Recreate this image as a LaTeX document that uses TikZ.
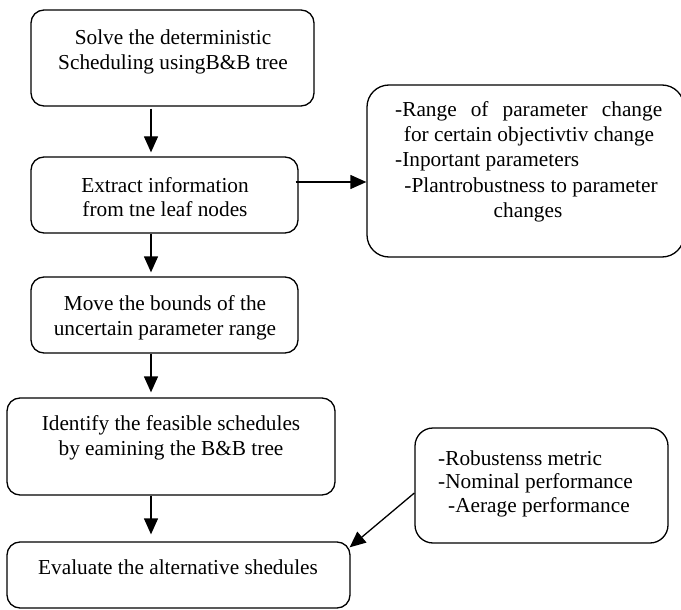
\documentclass[tikz,border=0pt]{standalone}
\usepackage{fontspec}
\setmainfont{Liberation Serif}
\usetikzlibrary{arrows.meta}
\begin{document}
\begin{tikzpicture}[x=1pt,y=-1pt,
  box/.style={draw,line width=1.3pt,rounded corners=13pt,inner sep=0pt},
  txt/.style={inner sep=0pt,anchor=base,font=\fontsize{21.3}{25}\selectfont},
  txtl/.style={txt,anchor=base west},
  arr/.style={line width=1.3pt,-{Triangle[length=16pt,width=14pt]}}]
\useasboundingbox (0,0) rectangle (681,610);
% boxes
\node[box,minimum width=283pt,minimum height=96pt] (b1) at (172.5,58) {};
\node[box,minimum width=267pt,minimum height=76pt] (b2) at (164.5,195) {};
\node[box,minimum width=267pt,minimum height=76pt] (b3) at (164.5,315) {};
\node[box,minimum width=328pt,minimum height=97pt] (b4) at (171,446.5) {};
\node[box,minimum width=343pt,minimum height=66pt] (b5) at (178.5,575) {};
\node[box,rounded corners=22pt,minimum width=317pt,minimum height=172pt] (info) at (525.5,171) {};
\node[box,rounded corners=18pt,minimum width=253pt,minimum height=115pt] (metrics) at (541.5,485.5) {};
% texts
\node[txt] (t1a) at (173,45) {Solve the deterministic};
\node[txt] (t1b) at (173,70) {Scheduling usingB\&B tree};
\node[txt] (t2a) at (165,192) {Extract information};
\node[txt] (t2b) at (165,216) {from tne leaf nodes};
\node[txt] (t3a) at (165,310) {Move the bounds of the};
\node[txt] (t3b) at (165,335) {uncertain parameter range};
\node[txt] (t4a) at (171,430) {Identify the feasible schedules};
\node[txt] (t4b) at (171,455) {by eamining the B\&B tree};
\node[txt] (t5) at (178,574) {Evaluate the alternative shedules};
\node[txtl] (i1) at (395,117) {\hbox to 267pt{-Range\hfill of\hfill parameter\hfill change}};
\node[txt] (i2) at (529,142) {for certain objectivtiv change};
\node[txtl] (i3) at (395,167) {-Inportant parameters};
\node[txt] (i4) at (531,192) {-Plantrobustness to parameter};
\node[txt] (i5) at (528,217) {changes};
\node[txtl] (m1) at (438,465) {-Robustenss metric};
\node[txtl] (m2) at (438,488) {-Nominal performance};
\node[txtl] (m3) at (448,512) {-Aerage performance};
% connectors
\coordinate (ax) at (151,0);
\draw[arr] ([yshift=-2pt]b1.south -| ax) -- ([yshift=4pt]b2.north -| ax);
\draw[arr] (b2.south -| ax) -- ([yshift=4pt]b3.north -| ax);
\draw[arr] (b3.south -| ax) -- ([yshift=5pt]b4.north -| ax);
\draw[arr] (b4.south -| ax) -- ([yshift=7pt]b5.north -| ax);
\draw[arr] ([xshift=-3pt,yshift=13pt]b2.east) -- ([yshift=13pt]b2.east -| info.west);
\draw[arr] ([yshift=-7.5pt]metrics.west) -- ([xshift=-1pt,yshift=-6pt]b5.north east);
\end{tikzpicture}
\end{document}
